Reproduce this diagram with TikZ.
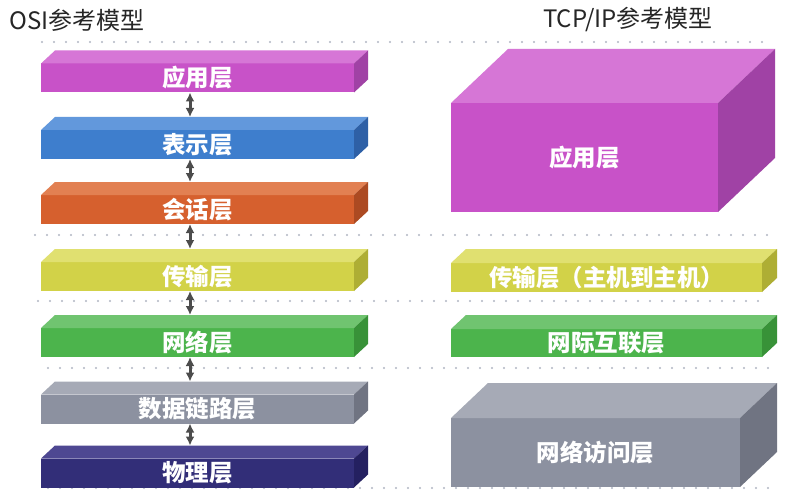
\documentclass[tikz,border=0pt]{standalone}
\usepackage{fontspec}
\newfontfamily\cjk{Noto Sans CJK SC}
\usetikzlibrary{arrows.meta}
\definecolor{appF}{RGB}{200,82,200}\definecolor{appT}{RGB}{214,118,214}\definecolor{appS}{RGB}{160,66,165}
\definecolor{preF}{RGB}{62,126,205}\definecolor{preT}{RGB}{98,152,220}\definecolor{preS}{RGB}{46,96,166}
\definecolor{sesF}{RGB}{214,96,46}\definecolor{sesT}{RGB}{226,128,82}\definecolor{sesS}{RGB}{172,74,34}
\definecolor{traF}{RGB}{210,210,72}\definecolor{traT}{RGB}{224,224,112}\definecolor{traS}{RGB}{174,174,52}
\definecolor{netF}{RGB}{76,180,76}\definecolor{netT}{RGB}{112,196,112}\definecolor{netS}{RGB}{56,146,56}
\definecolor{dlkF}{RGB}{140,145,160}\definecolor{dlkT}{RGB}{166,170,182}\definecolor{dlkS}{RGB}{112,116,130}
\definecolor{phyF}{RGB}{50,46,120}\definecolor{phyT}{RGB}{78,72,146}\definecolor{phyS}{RGB}{36,32,96}
\definecolor{dotc}{RGB}{176,182,194}
\tikzset{
  front/.style={rectangle, inner sep=0pt, outer sep=0pt, text=white, font=\cjk\bfseries\fontsize{23.5}{24}\selectfont},
  conn/.style={draw=black!70, line width=3pt, {Latex[length=9pt,width=9pt]}-{Latex[length=9pt,width=9pt]}},
  dotline/.style={draw=dotc, line width=2.4pt, line cap=round, dash pattern=on 0pt off 12pt},
  title/.style={font=\cjk\fontsize{24}{24}\selectfont, text=black!85, inner sep=0pt}
}
% #1 name, #2 center, #3 width, #4 height, #5 dx, #6 dy, #7 colour prefix, #8 label
\newcommand{\layerbox}[8]{%
  \node[front, fill=#7F, minimum width=#3pt, minimum height=#4pt] (#1) at #2 {#8};
  \fill[#7T] (#1.north west) -- ++(#5,-#6) -- ([shift={(#5pt,#6pt)}]#1.north east) -- (#1.north east) -- cycle;
  \fill[#7S] (#1.north east) -- ++(#5,-#6) -- ([shift={(#5pt,#6pt)}]#1.south east) -- (#1.south east) -- cycle;
}
\begin{document}
\begin{tikzpicture}[x=1pt,y=-1pt]
\useasboundingbox (0,0) rectangle (795,500);
\fill[white] (0,0) rectangle (795,500);
% dotted separators
\draw[dotline] (42,42) -- (772,42);
\draw[dotline] (35,235) -- (767,235);
\draw[dotline] (38,301) -- (767,301);
\draw[dotline] (48,368) -- (778,368);
\draw[dotline] (48,488) -- (778,488);
% titles
\node[title, anchor=west] (t1) at (9,20) {OSI参考模型};
\node[title] (t2) at (628,20) {TCP/IP参考模型};
% OSI layers
\layerbox{o1}{(197.5,78)}{313}{29}{14}{13}{app}{应用层}
\layerbox{o2}{(197.5,144.5)}{313}{29}{14}{13}{pre}{表示层}
\layerbox{o3}{(197.5,209.5)}{313}{29}{14}{13}{ses}{会话层}
\layerbox{o4}{(197.5,276.5)}{313}{29}{14}{13}{tra}{传输层}
\layerbox{o5}{(197.5,342.5)}{313}{29}{14}{13}{net}{网络层}
\layerbox{o6}{(197.5,409)}{313}{29}{14}{13}{dlk}{数据链路层}
\layerbox{o7}{(197.5,473)}{313}{29}{14}{13}{phy}{物理层}
% TCP/IP layers
\layerbox{r1}{(584.5,157.5)}{267}{109}{57}{54}{app}{应用层}
\layerbox{r2}{(606.5,277.5)}{311}{29}{15}{14}{tra}{传输层（主机到主机）}
\layerbox{r3}{(606.5,343)}{311}{28}{15}{14}{net}{网际互联层}
\layerbox{r4}{(595.5,452.5)}{289}{69}{37}{35}{dlk}{网络访问层}
% connectors
\foreach \a/\b in {o1/o2,o2/o3,o3/o4,o4/o5,o5/o6,o6/o7}{
  \draw[conn] ([xshift=-7.5pt]\a.south) -- ([xshift=-7.5pt,yshift=13pt]\b.north);
}
\end{tikzpicture}
\end{document}
